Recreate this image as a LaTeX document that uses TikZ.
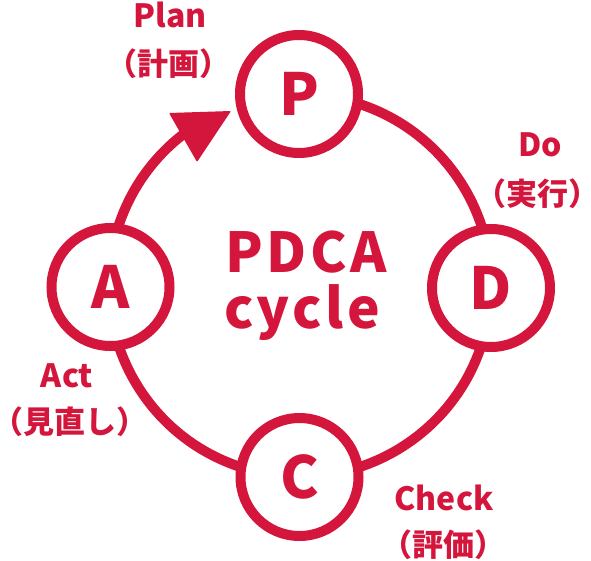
\documentclass[tikz,border=0pt]{standalone}
\usepackage{fontspec}
\setmainfont{Noto Sans CJK JP}
\definecolor{pdca}{RGB}{212,22,60}
\newcommand{\jparen}[1]{\kern-0.45em（#1）\kern-0.45em}
\begin{document}
\begin{tikzpicture}[x=1pt,y=1pt,
  stage/.style={circle, draw=pdca, line width=10pt, fill=white, minimum size=118pt, inner sep=0pt, text=pdca, font=\bfseries\fontsize{58}{58}\selectfont},
  lbl/.style={text=pdca, font=\bfseries\fontsize{32}{32}\selectfont, anchor=base, inner sep=0pt},
  jlbl/.style={text=pdca, font=\bfseries\fontsize{31}{31}\selectfont, anchor=base, inner sep=0pt},
  bigtxt/.style={text=pdca, font=\bfseries\fontsize{55}{55}\selectfont\addfontfeature{LetterSpace=6}, anchor=base, inner sep=0pt}]
\useasboundingbox (0,0) rectangle (591,560);
\coordinate (O) at (300,274.5);
\draw[pdca, line width=10pt] ([shift={(124:191)}]O) arc[start angle=124, end angle=450, radius=191];
\fill[pdca, rounded corners=1pt] (169,447) -- (231,449) -- (197,398) -- cycle;
\node[stage] (P) at (299,466) {P};
\node[stage] (D) at (491,272) {D};
\node[stage] (A) at (110.5,273) {A};
\node[stage] (C) at (299.5,83) {C};
\node[bigtxt] (t1) at (306,287) {PDCA};
\node[bigtxt] (t2) at (302,232) {cycle};
\node[lbl] (lp) at (170,532) {Plan};
\node[jlbl] (jp) at (168,484) {\jparen{計画}};
\node[lbl] (ld) at (540,403) {Do};
\node[jlbl] (jd) at (537,354) {\jparen{実行}};
\node[lbl] (la) at (67,173) {Act};
\node[jlbl] (ja) at (70,127) {\jparen{見直し}};
\node[lbl] (lc) at (444,50) {Check};
\node[jlbl] (jc) at (443,4) {\jparen{評価}};
\end{tikzpicture}
\end{document}
